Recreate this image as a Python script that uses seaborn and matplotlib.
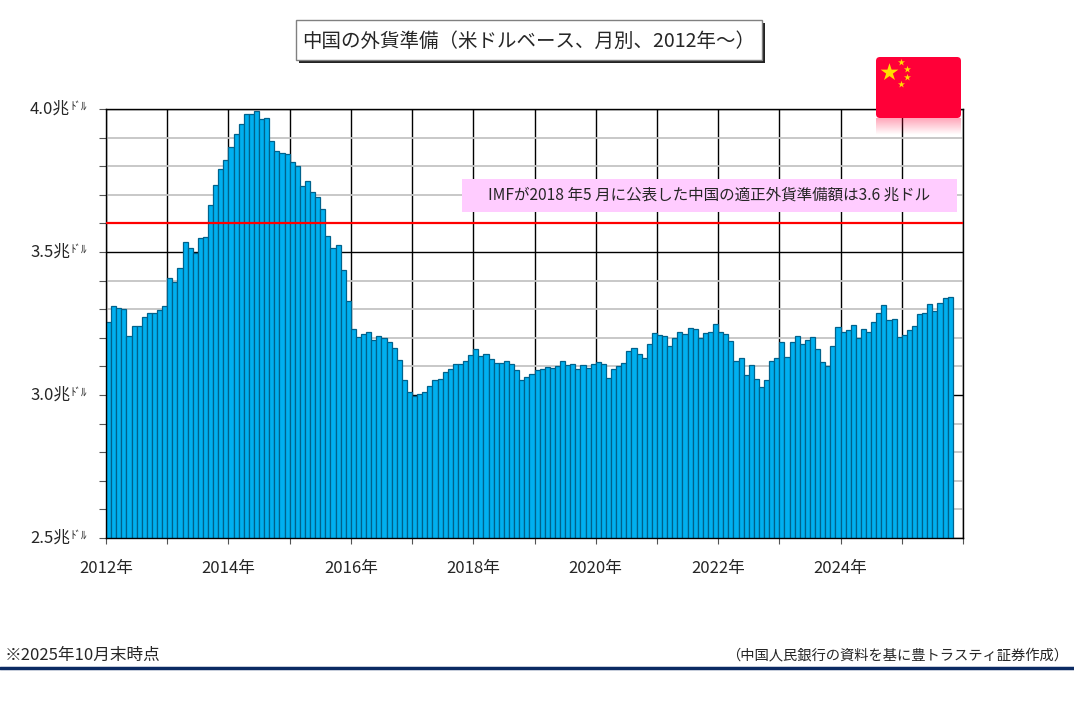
import numpy as np
import pandas as pd
import matplotlib
matplotlib.use("Agg")
import matplotlib.pyplot as plt
import seaborn as sns
from matplotlib.patches import Rectangle, FancyBboxPatch
from matplotlib.lines import Line2D

# China FX reserves, month-end, trillion USD (Jan 2012 - Oct 2025)
reserves_2012 = [3.254, 3.310, 3.305, 3.299, 3.206, 3.240, 3.240, 3.273, 3.285, 3.287, 3.298, 3.312]
reserves_2013 = [3.410, 3.396, 3.443, 3.535, 3.515, 3.497, 3.548, 3.553, 3.663, 3.736, 3.790, 3.821]
reserves_2014 = [3.867, 3.914, 3.948, 3.981, 3.984, 3.993, 3.966, 3.969, 3.888, 3.853, 3.847, 3.843]
reserves_2015 = [3.813, 3.802, 3.730, 3.748, 3.711, 3.694, 3.651, 3.557, 3.514, 3.526, 3.438, 3.330]
reserves_2016 = [3.231, 3.202, 3.213, 3.220, 3.192, 3.205, 3.201, 3.185, 3.166, 3.121, 3.052, 3.011]
reserves_2017 = [2.998, 3.005, 3.009, 3.030, 3.054, 3.057, 3.081, 3.092, 3.109, 3.109, 3.119, 3.140]
reserves_2018 = [3.162, 3.135, 3.143, 3.125, 3.111, 3.112, 3.118, 3.110, 3.087, 3.053, 3.062, 3.073]
reserves_2019 = [3.088, 3.090, 3.099, 3.095, 3.101, 3.119, 3.104, 3.107, 3.092, 3.105, 3.096, 3.108]
reserves_2020 = [3.116, 3.107, 3.061, 3.092, 3.102, 3.112, 3.154, 3.165, 3.143, 3.128, 3.179, 3.217]
reserves_2021 = [3.211, 3.205, 3.170, 3.198, 3.222, 3.214, 3.236, 3.232, 3.201, 3.218, 3.222, 3.250]
reserves_2022 = [3.222, 3.214, 3.188, 3.120, 3.128, 3.071, 3.104, 3.055, 3.029, 3.052, 3.118, 3.128]
reserves_2023 = [3.185, 3.133, 3.184, 3.205, 3.177, 3.193, 3.204, 3.160, 3.115, 3.101, 3.172, 3.238]
reserves_2024 = [3.219, 3.226, 3.246, 3.201, 3.232, 3.222, 3.256, 3.288, 3.316, 3.261, 3.266, 3.202]
reserves_2025 = [3.209, 3.227, 3.241, 3.282, 3.285, 3.317, 3.292, 3.322, 3.339, 3.343]

values = (reserves_2012 + reserves_2013 + reserves_2014 + reserves_2015 + reserves_2016
          + reserves_2017 + reserves_2018 + reserves_2019 + reserves_2020 + reserves_2021
          + reserves_2022 + reserves_2023 + reserves_2024 + reserves_2025)
months = pd.period_range("2012-01", periods=len(values), freq="M").astype(str)
df = pd.DataFrame({"month": months, "reserves": values})

year_labels = ["2012年", "2014年", "2016年", "2018年", "2020年", "2022年", "2024年"]
y_labels = ["2.5", "3.0", "3.5", "4.0"]
imf_level = 3.6

title = "中国の外貨準備（米ドルベース、月別、2012年～）"
note_text = "IMFが2018 年5 月に公表した中国の適正外貨準備額は3.6 兆ドル"
foot_left = "※2025年10月末時点"
foot_right = "（中国人民銀行の資料を基に豊トラスティ証券作成）"

sns.set_style("white")
plt.rcParams["font.family"] = ["Noto Sans CJK JP", "DejaVu Sans"]

W, H = 1074, 707
fig = plt.figure(figsize=(W / 100, H / 100), dpi=100)


def fx(px):
    return px / W


def fy(py):
    return 1 - py / H


ax = fig.add_axes([fx(106), fy(538), fx(857), 429 / H])

sns.barplot(data=df, x="month", y="reserves", color="#00B0F0", saturation=1,
            edgecolor="#00628C", linewidth=0.9, width=1.0, ax=ax, zorder=2)

ax.set_xlim(-0.5, 14 * 12 - 0.5)
ax.set_ylim(2.5, 4.0)

# y grid / ticks
ax.set_yticks([2.5, 3.0, 3.5, 4.0])
ax.set_yticks(np.round(np.arange(2.5, 4.0001, 0.1), 2), minor=True)
ax.set_yticklabels([])
ax.yaxis.grid(True, which="major", color="black", lw=1.0, zorder=0)
ax.yaxis.grid(True, which="minor", color="#c4c4c4", lw=1.3, zorder=0)
for lab, yv in zip(y_labels, [2.5, 3.0, 3.5, 4.0]):
    ax.text(-0.042, yv, lab + "兆", transform=ax.get_yaxis_transform(),
            ha="right", va="center", fontsize=12)
    ax.text(-0.042, yv + 0.008, "ﾄﾞﾙ", transform=ax.get_yaxis_transform(),
            ha="left", va="center", fontsize=8)

# x grid / ticks (one line per year, labels every two years)
ax.set_xticks([24 * k - 0.5 for k in range(len(year_labels))])
ax.set_xticklabels(year_labels, fontsize=12)
ax.set_xticks([12 * k - 0.5 for k in range(1, 15)], minor=True)
ax.xaxis.grid(True, which="major", color="black", lw=1.0, zorder=0)
ax.xaxis.grid(True, which="minor", color="black", lw=1.0, zorder=0)
ax.set_axisbelow(True)

ax.tick_params(axis="x", which="both", direction="out", length=4, width=0.8,
               color="#555555", pad=12, bottom=True)
ax.tick_params(axis="y", which="both", direction="out", length=5, width=0.8,
               color="#555555", left=True)
ax.set_xlabel("")
ax.set_ylabel("")
for s in ax.spines.values():
    s.set_color("black")
    s.set_linewidth(1.0)

ax.axhline(imf_level, color="#FF0000", lw=1.6, zorder=5)

# IMF note box
fig.patches.append(Rectangle((fx(462), fy(212)), fx(495), 33 / H, transform=fig.transFigure,
                             facecolor="#FFCCFF", edgecolor="none", zorder=3))
fig.text(fx(709), fy(195.5), note_text, ha="center", va="center", fontsize=11.2, zorder=4)

# title box with shadow
fig.patches.append(Rectangle((fx(299), fy(63)), fx(466), 40 / H, transform=fig.transFigure,
                             facecolor="#222222", edgecolor="none", zorder=3))
fig.patches.append(Rectangle((fx(296), fy(60)), fx(466), 40 / H, transform=fig.transFigure,
                             facecolor="white", edgecolor="#808080", lw=1, zorder=3))
fig.text(fx(302), fy(41), title, ha="left", va="center", fontsize=14, zorder=4)

# flag
axf = fig.add_axes([fx(876), fy(135), fx(85), 78 / H])
axf.axis("off")
axf.add_patch(FancyBboxPatch((0, 0), 85, 61, boxstyle="round,pad=0,rounding_size=4",
                             facecolor="#FF0038", edgecolor="none"))
grad = np.zeros((40, 1, 4))
grad[..., 0] = 1.0
grad[..., 1] = 0.0
grad[..., 2] = 0.22
grad[..., 3] = np.linspace(0.35, 0.0, 40)[:, None]
axf.imshow(grad, extent=(0, 85, 78, 61), aspect="auto", interpolation="bilinear")
axf.set_xlim(0, 85)
axf.set_ylim(78, 0)
axf.scatter([12.5], [15], marker="*", s=180, color="#FFDE00", linewidths=0)
axf.scatter([25, 31, 31, 25], [5, 12, 20, 27], marker="*", s=28, color="#FFDE00",
            linewidths=0)

# footer
fig.text(fx(5), fy(655), foot_left, ha="left", va="center", fontsize=12)
fig.text(fx(1068), fy(655), foot_right, ha="right", va="center", fontsize=10.3)
fig.add_artist(Line2D([0, 1], [fy(668), fy(668)], transform=fig.transFigure,
                      color="#0B2A63", lw=2.5))

fig.savefig("out.png", dpi=100)
